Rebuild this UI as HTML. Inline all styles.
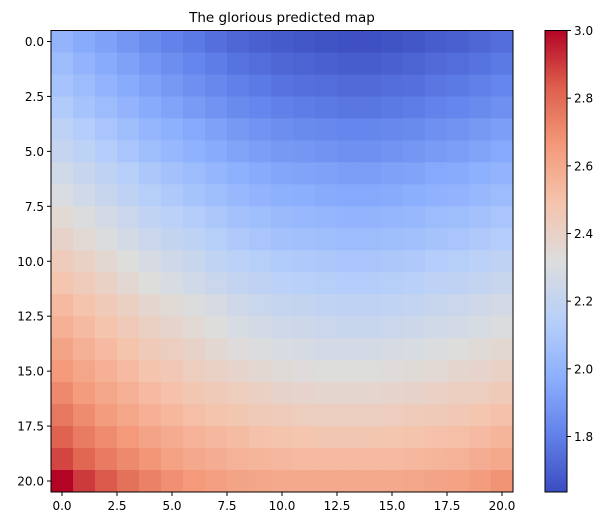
<!DOCTYPE html>
<html><head><meta charset="utf-8"><style>
body{margin:0;background:#fff;}
svg{display:block;font-family:"DejaVu Sans","Liberation Sans",sans-serif;}
</style></head><body>
<svg id="chart" width="608" height="526" viewBox="0 0 608 526" xmlns="http://www.w3.org/2000/svg">
<text x="282" y="22" text-anchor="middle" font-size="13.5">The glorious predicted map</text>
<g id="cells"></g>
<rect x="51" y="30.5" width="462" height="461.5" fill="none" stroke="#000" stroke-width="1"/>
<g id="axes"></g>
<defs><linearGradient id="cbgrad" x1="0" y1="1" x2="0" y2="0"></linearGradient></defs>
<rect x="545" y="30.5" width="22" height="461.5" fill="url(#cbgrad)" stroke="#000" stroke-width="1"/>
<g id="cbaxis"></g>
</svg>
<script>
const values = [
[2.00,1.96,1.92,1.88,1.84,1.81,1.78,1.75,1.72,1.70,1.68,1.67,1.66,1.65,1.65,1.66,1.67,1.69,1.70,1.72,1.74],
[2.04,2.00,1.96,1.92,1.88,1.85,1.82,1.79,1.76,1.74,1.72,1.71,1.70,1.69,1.69,1.70,1.71,1.73,1.74,1.76,1.78],
[2.08,2.04,2.00,1.96,1.92,1.89,1.86,1.83,1.80,1.78,1.76,1.75,1.74,1.73,1.73,1.74,1.75,1.77,1.78,1.80,1.82],
[2.12,2.08,2.04,2.00,1.96,1.93,1.90,1.87,1.84,1.82,1.80,1.79,1.78,1.77,1.77,1.78,1.79,1.81,1.82,1.84,1.86],
[2.17,2.13,2.09,2.05,2.01,1.98,1.95,1.92,1.89,1.87,1.85,1.84,1.83,1.82,1.82,1.83,1.84,1.86,1.87,1.89,1.91],
[2.21,2.17,2.13,2.09,2.05,2.02,1.99,1.96,1.93,1.91,1.89,1.88,1.87,1.86,1.86,1.87,1.88,1.90,1.91,1.93,1.95],
[2.26,2.22,2.18,2.14,2.10,2.07,2.04,2.01,1.98,1.96,1.94,1.93,1.92,1.91,1.91,1.92,1.93,1.95,1.96,1.98,2.00],
[2.30,2.26,2.22,2.18,2.14,2.11,2.08,2.05,2.02,2.00,1.98,1.97,1.96,1.95,1.95,1.96,1.97,1.99,2.00,2.02,2.04],
[2.35,2.31,2.27,2.23,2.19,2.16,2.13,2.10,2.07,2.05,2.03,2.02,2.01,2.00,2.00,2.01,2.02,2.04,2.05,2.07,2.09],
[2.39,2.35,2.31,2.27,2.23,2.20,2.17,2.14,2.11,2.09,2.07,2.06,2.05,2.04,2.04,2.05,2.06,2.08,2.09,2.11,2.13],
[2.44,2.40,2.36,2.32,2.28,2.25,2.22,2.19,2.16,2.14,2.12,2.11,2.10,2.09,2.09,2.10,2.11,2.13,2.14,2.16,2.18],
[2.48,2.44,2.40,2.36,2.32,2.29,2.26,2.23,2.20,2.18,2.16,2.15,2.14,2.13,2.13,2.14,2.15,2.17,2.18,2.20,2.22],
[2.53,2.49,2.45,2.41,2.37,2.34,2.31,2.28,2.25,2.23,2.21,2.20,2.19,2.18,2.18,2.19,2.20,2.22,2.23,2.25,2.27],
[2.57,2.53,2.49,2.45,2.41,2.38,2.35,2.32,2.29,2.27,2.25,2.24,2.23,2.22,2.22,2.23,2.24,2.26,2.27,2.29,2.31],
[2.62,2.57,2.53,2.49,2.45,2.42,2.39,2.36,2.33,2.31,2.29,2.28,2.27,2.27,2.27,2.28,2.29,2.31,2.32,2.34,2.36],
[2.66,2.61,2.57,2.53,2.49,2.46,2.43,2.40,2.38,2.36,2.34,2.33,2.32,2.32,2.32,2.33,2.34,2.35,2.37,2.38,2.40],
[2.71,2.65,2.61,2.57,2.53,2.50,2.47,2.45,2.43,2.41,2.39,2.38,2.37,2.37,2.37,2.38,2.39,2.40,2.42,2.43,2.45],
[2.76,2.70,2.65,2.61,2.57,2.54,2.51,2.49,2.47,2.45,2.44,2.43,2.42,2.42,2.42,2.43,2.44,2.45,2.46,2.48,2.50],
[2.82,2.75,2.70,2.66,2.62,2.59,2.56,2.54,2.52,2.50,2.49,2.48,2.47,2.47,2.47,2.48,2.49,2.50,2.51,2.53,2.55],
[2.88,2.81,2.75,2.71,2.67,2.63,2.60,2.58,2.56,2.55,2.54,2.53,2.53,2.53,2.53,2.53,2.54,2.55,2.56,2.58,2.60],
[3.00,2.90,2.84,2.78,2.73,2.69,2.66,2.64,2.62,2.61,2.60,2.60,2.60,2.60,2.60,2.60,2.61,2.62,2.63,2.65,2.68]
];
const xTicks = [0,2.5,5,7.5,10,12.5,15,17.5,20];
const yTicks = [0,2.5,5,7.5,10,12.5,15,17.5,20];
const cbTicks = [1.8,2.0,2.2,2.4,2.6,2.8,3.0];
const vmin = 1.636, vmax = 3.0;

const NS = "http://www.w3.org/2000/svg";
const PX = 51, PY = 30.5, PW = 462, PH = 461.5;
const nR = values.length, nC = values[0].length;
const cw = PW / nC, ch = PH / nR;
function xScale(v){ return PX + (v + 0.5) * cw; }
function yScale(v){ return PY + (v + 0.5) * ch; }
const cbY0 = 30.5, cbH = 461.5;
function cbScale(v){ return cbY0 + cbH - (v - vmin) / (vmax - vmin) * cbH; }
const stops = [[59,76,192],[98,130,234],[141,176,254],[184,208,249],[221,221,221],[245,196,173],[244,154,123],[222,96,77],[180,4,38]];
function cmap(t){
  t = Math.max(0, Math.min(1, t));
  const f = t * (stops.length - 1), i = Math.min(stops.length - 2, Math.floor(f)), u = f - i;
  const a = stops[i], b = stops[i+1];
  return "rgb(" + [0,1,2].map(k => Math.round(a[k] + (b[k]-a[k]) * u)).join(",") + ")";
}
function mk(tag, attrs){ const e = document.createElementNS(NS, tag); for (const k in attrs) e.setAttribute(k, attrs[k]); return e; }

const cells = document.getElementById("cells");
for (let r = 0; r < nR; r++) for (let c = 0; c < nC; c++) {
  const e = mk("rect", {x: (xScale(c) - cw/2).toFixed(2), y: (yScale(r) - ch/2).toFixed(2), width: (cw + 0.4).toFixed(2), height: (ch + 0.4).toFixed(2), fill: cmap((values[r][c] - vmin) / (vmax - vmin))});
  
  
  cells.appendChild(e);
}
const axes = document.getElementById("axes");
xTicks.forEach(v => {
  const x = xScale(v);
  const l = mk("line", {x1: x, x2: x, y1: PY + PH, y2: PY + PH + 4, stroke: "#000"});
  
  
  axes.appendChild(l);
  const t = mk("text", {x: x, y: PY + PH + 18, "text-anchor": "middle", "font-size": "12"});
  
  
  t.textContent = v.toFixed(1);
  axes.appendChild(t);
});
yTicks.forEach(v => {
  const y = yScale(v);
  const l = mk("line", {x1: PX - 4, x2: PX, y1: y, y2: y, stroke: "#000"});
  
  
  axes.appendChild(l);
  const t = mk("text", {x: PX - 7, y: y + 4.5, "text-anchor": "end", "font-size": "12"});
  
  
  t.textContent = v.toFixed(1);
  axes.appendChild(t);
});
const grad = document.getElementById("cbgrad");
for (let i = 0; i < stops.length; i++) {
  const s = mk("stop", {offset: (i / (stops.length - 1)), "stop-color": cmap(i / (stops.length - 1))});
  grad.appendChild(s);
}
const cb = document.getElementById("cbaxis");
cbTicks.forEach(v => {
  const y = cbScale(v);
  const l = mk("line", {x1: 567, x2: 571, y1: y, y2: y, stroke: "#000"});
  
  
  cb.appendChild(l);
  const t = mk("text", {x: 574, y: y + 4.5, "font-size": "12"});
  
  
  t.textContent = v.toFixed(1);
  cb.appendChild(t);
});
</script>
</body></html>
